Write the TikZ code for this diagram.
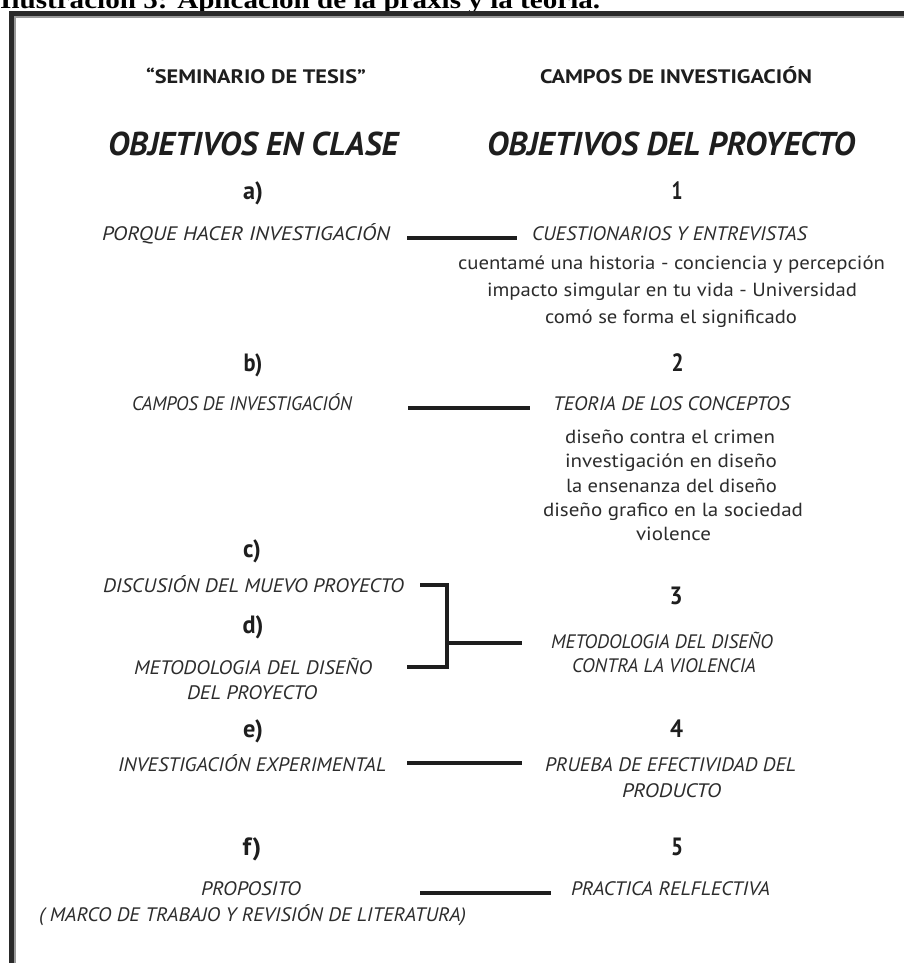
\documentclass[tikz,border=0pt]{standalone}
\usepackage{fontspec}
\usepackage{graphicx}
\setmainfont{PT Sans}
\newfontfamily\titlefont{Liberation Serif}
\usetikzlibrary{calc}

\definecolor{ink}{HTML}{1E1E1E}
\definecolor{soft}{HTML}{2C2C2C}
\definecolor{framec}{HTML}{2A2A2A}
\definecolor{frameedge}{HTML}{9A9A9A}

% set #2 on one line, stretched or squeezed horizontally to width #1 (in pt)
\newsavebox\fitbox
\newcommand\fitx[2]{\sbox\fitbox{#2}\pgfmathsetmacro\fxs{#1/\the\wd\fitbox}\scalebox{\fxs}[1]{\usebox\fitbox}}

\tikzset{
  txt/.style={inner sep=0pt, anchor=base},
  caption/.style={txt, text=black, font=\titlefont\bfseries\fontsize{25}{25}\selectfont},
  hdr/.style={txt, text=ink, font=\bfseries\fontsize{19.5}{19.5}\selectfont},
  bighdr/.style={txt, text=ink, font=\bfseries\itshape\fontsize{33}{33}\selectfont},
  tag/.style={txt, text=ink, font=\bfseries\fontsize{25}{25}\selectfont},
  item/.style={txt, text=soft, font=\itshape\fontsize{19.5}{19.5}\selectfont},
  note/.style={txt, text=soft, font=\fontsize{19}{19}\selectfont},
  link/.style={draw=ink, line width=4.6pt, line cap=butt, line join=miter},
}

\begin{document}
\begin{tikzpicture}[x=1pt, y=-1pt]
\clip (0,0) rectangle (904,963);
\fill[white] (0,0) rectangle (904,963);

% caption above the frame (its top is cut off by the page edge)
\node[caption, anchor=base west] (cap) at (0,8.5) {\fitx{600}{Ilustración 5: Aplicación de la praxis y la teoría.}};

% frame: left and top rules
\draw[line width=2pt, draw=frameedge] (15,963) -- (15,17) -- (904,17);
\draw[line width=5pt, draw=framec, line join=miter] (11.5,963) -- (11.5,13.5) -- (904,13.5);

% column headings
\node[hdr] (sem) at (256,84) {\fitx{220}{“SEMINARIO DE TESIS”}};
\node[hdr] (cam) at (676,84) {\fitx{272}{CAMPOS DE INVESTIGACIÓN}};
\node[bighdr] (oc) at (253,155) {\fitx{290}{OBJETIVOS EN CLASE}};
\node[bighdr] (op) at (671,155) {\fitx{368}{OBJETIVOS DEL PROYECTO}};

% row a / 1
\node[tag] (ta) at (253,199) {\fitx{20}{a)}};
\node[tag] (t1) at (677,199) {\fitx{11}{1}};
\node[item] (pa) at (246,240) {\fitx{288}{PORQUE HACER INVESTIGACIÓN}};
\node[item] (qa) at (669.5,240) {\fitx{275}{CUESTIONARIOS Y ENTREVISTAS}};
\node[note] (n1a) at (671.5,269) {\fitx{427}{cuentamé una historia - conciencia y percepción}};
\node[note] (n1b) at (672,296) {\fitx{370}{impacto simgular en tu vida - Universidad}};
\node[note] (n1c) at (671,323) {\fitx{252}{comó se forma el significado}};
\draw[link] ($(pa.base east)+(17,-2)$) -- ($(qa.base west)+(-15,-2)$);

% row b / 2
\node[tag] (tb) at (253,371) {\fitx{19}{b)}};
\node[tag] (t2) at (677.5,371) {\fitx{12}{2}};
\node[item] (cb) at (242,410) {\fitx{220}{CAMPOS DE INVESTIGACIÓN}};
\node[item] (qb) at (671.5,410) {\fitx{237}{TEORIA DE LOS CONCEPTOS}};
\node[note] (n2a) at (670,443) {\fitx{210}{diseño contra el crimen}};
\node[note] (n2b) at (671,467) {\fitx{212}{investigación en diseño}};
\node[note] (n2c) at (671.5,492) {\fitx{211}{la ensenanza del diseño}};
\node[note] (n2d) at (673,516) {\fitx{260}{diseño grafico en la sociedad}};
\node[note] (n2e) at (673.5,540) {\fitx{75}{violence}};
\draw[link] ($(cb.base east)+(56,-2)$) -- ($(qb.base west)+(-23,-2)$);

% rows c, d / 3
\node[tag] (tc) at (252,557) {\fitx{18}{c)}};
\node[item] (dc) at (253.5,592) {\fitx{301}{DISCUSIÓN DEL MUEVO PROYECTO}};
\node[tag] (t3) at (676,604) {\fitx{13}{3}};
\node[tag] (td) at (253,633) {\fitx{21}{d)}};
\node[item] (mr1) at (662,648) {\fitx{222}{METODOLOGIA DEL DISEÑO}};
\node[item] (mr2) at (664,672) {\fitx{184}{CONTRA LA VIOLENCIA}};
\node[item] (ml1) at (253,674) {\fitx{238}{METODOLOGIA DEL DISEÑO}};
\node[item] (ml2) at (252,699) {\fitx{130}{DEL PROYECTO}};
\coordinate (jn) at (447,643);
\draw[link] ($(dc.base east)+(16,-7)$) -| (jn);
\draw[link] ($(ml1.base east)+(35,-7)$) -| (jn);
\draw[link] (jn) -- ($(mr1.base west)+(-29,-5)$);

% row e / 4
\node[tag] (te) at (253,737) {\fitx{20}{e)}};
\node[tag] (t4) at (676.5,737) {\fitx{13}{4}};
\node[item] (ie) at (252,771) {\fitx{268}{INVESTIGACIÓN EXPERIMENTAL}};
\node[item] (pe1) at (670.5,771) {\fitx{251}{PRUEBA DE EFECTIVIDAD DEL}};
\node[item] (pe2) at (671.5,797) {\fitx{99}{PRODUCTO}};
\draw[link] ($(ie.base east)+(21,-8)$) -- ($(pe1.base west)+(-23,-8)$);

% row f / 5
\node[tag] (tf) at (252,855) {\fitx{19}{f)}};
\node[tag] (t5) at (677,855) {\fitx{12}{5}};
\node[item] (pf1) at (251,895) {\fitx{100}{PROPOSITO}};
\node[item] (pf2) at (252.5,921) {\fitx{427}{( MARCO DE TRABAJO Y REVISIÓN DE LITERATURA)}};
\node[item] (rf) at (670.5,895) {\fitx{199}{PRACTICA RELFLECTIVA}};
\draw[link] ($(pf1.base east)+(119,-2)$) -- ($(rf.base west)+(-20,-2)$);
\end{tikzpicture}
\end{document}
